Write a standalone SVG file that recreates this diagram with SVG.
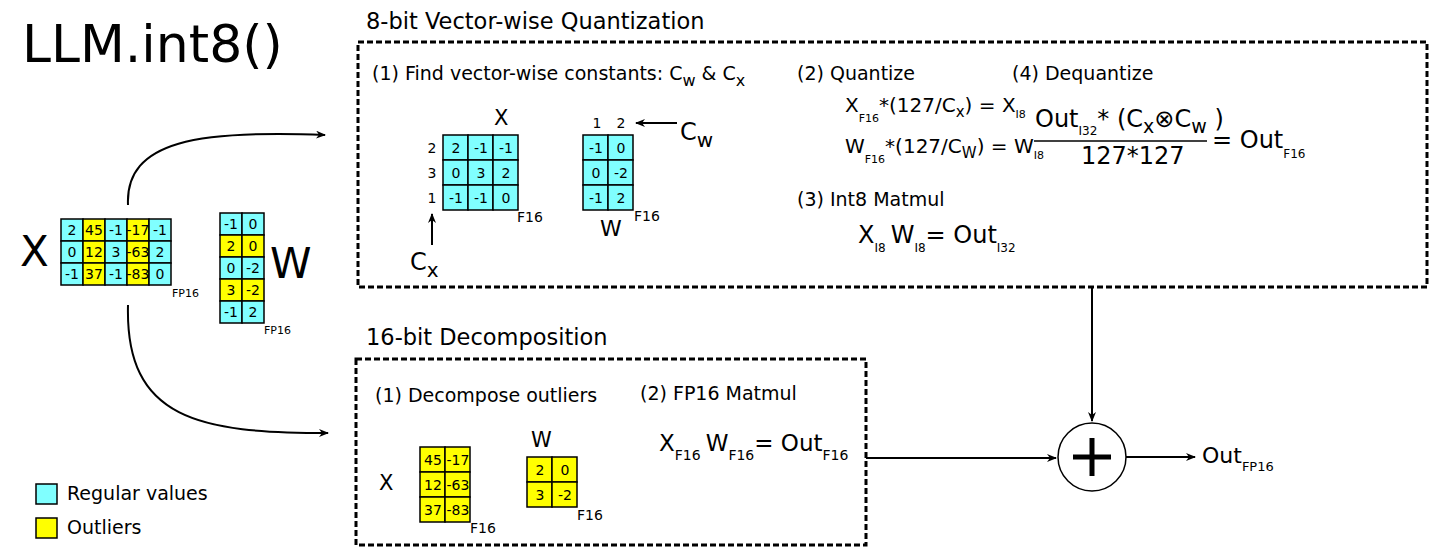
<svg xmlns="http://www.w3.org/2000/svg" width="1444" height="548" viewBox="0 0 1444 548">
<style>
text{font-family:"DejaVu Sans",sans-serif;fill:#000}
.c{fill:#80ffff;stroke:#000;stroke-width:1.5}
.y{fill:#ffff00;stroke:#000;stroke-width:1.5}
.n{font-size:14px;text-anchor:middle}
.s{font-size:11px}
.h{font-size:19px}
.t{font-size:22.5px}
.box{fill:none;stroke:#000;stroke-width:3;stroke-dasharray:6,3}
.ln{fill:none;stroke:#000;stroke-width:2}
</style>
<defs><marker id="a" markerWidth="10" markerHeight="8" refX="9" refY="4" orient="auto" markerUnits="userSpaceOnUse"><path d="M0,0L10,4L0,8L3,4z" fill="#000"/></marker></defs>
<rect width="1444" height="548" fill="#fff"/>
<text x="22" y="62" font-size="52">LLM.int8()</text>

<g id="inputX">
<text x="20" y="266" font-size="42">X</text>
<g class="n">
<rect class="c" x="61" y="219" width="22" height="22"/><rect class="y" x="83" y="219" width="22" height="22"/><rect class="c" x="105" y="219" width="22" height="22"/><rect class="y" x="127" y="219" width="22" height="22"/><rect class="c" x="149" y="219" width="22" height="22"/>
<rect class="c" x="61" y="241" width="22" height="22"/><rect class="y" x="83" y="241" width="22" height="22"/><rect class="c" x="105" y="241" width="22" height="22"/><rect class="y" x="127" y="241" width="22" height="22"/><rect class="c" x="149" y="241" width="22" height="22"/>
<rect class="c" x="61" y="263" width="22" height="22"/><rect class="y" x="83" y="263" width="22" height="22"/><rect class="c" x="105" y="263" width="22" height="22"/><rect class="y" x="127" y="263" width="22" height="22"/><rect class="c" x="149" y="263" width="22" height="22"/>
<text x="72" y="235">2</text><text x="94" y="235">45</text><text x="116" y="235">-1</text><text x="138" y="235">-17</text><text x="160" y="235">-1</text>
<text x="72" y="257">0</text><text x="94" y="257">12</text><text x="116" y="257">3</text><text x="138" y="257">-63</text><text x="160" y="257">2</text>
<text x="72" y="279">-1</text><text x="94" y="279">37</text><text x="116" y="279">-1</text><text x="138" y="279">-83</text><text x="160" y="279">0</text>
</g>
<text class="s" x="172" y="297">FP16</text>
</g>

<g id="inputW">
<g class="n">
<rect class="c" x="220" y="213" width="22" height="22"/><rect class="c" x="242" y="213" width="22" height="22"/>
<rect class="y" x="220" y="235" width="22" height="22"/><rect class="y" x="242" y="235" width="22" height="22"/>
<rect class="c" x="220" y="257" width="22" height="22"/><rect class="c" x="242" y="257" width="22" height="22"/>
<rect class="y" x="220" y="279" width="22" height="22"/><rect class="y" x="242" y="279" width="22" height="22"/>
<rect class="c" x="220" y="301" width="22" height="22"/><rect class="c" x="242" y="301" width="22" height="22"/>
<text x="231" y="229">-1</text><text x="253" y="229">0</text>
<text x="231" y="251">2</text><text x="253" y="251">0</text>
<text x="231" y="273">0</text><text x="253" y="273">-2</text>
<text x="231" y="295">3</text><text x="253" y="295">-2</text>
<text x="231" y="317">-1</text><text x="253" y="317">2</text>
</g>
<text x="270" y="278" font-size="42">W</text>
<text class="s" x="264" y="334">FP16</text>
</g>

<g id="quant">
<rect class="box" x="358" y="42" width="1069" height="245"/>
<text class="t" x="366" y="29">8-bit Vector-wise Quantization</text>
<text class="h" x="372" y="80">(1) Find vector-wise constants: C<tspan font-size="16" dy="6">w</tspan><tspan dy="-6"> &amp; C</tspan><tspan font-size="16" dy="6">x</tspan></text>
<text x="494" y="125" font-size="21">X</text>
<g class="n">
<rect class="c" x="443" y="135" width="25" height="25"/><rect class="c" x="468" y="135" width="25" height="25"/><rect class="c" x="493" y="135" width="25" height="25"/>
<rect class="c" x="443" y="160" width="25" height="25"/><rect class="c" x="468" y="160" width="25" height="25"/><rect class="c" x="493" y="160" width="25" height="25"/>
<rect class="c" x="443" y="185" width="25" height="25"/><rect class="c" x="468" y="185" width="25" height="25"/><rect class="c" x="493" y="185" width="25" height="25"/>
<text x="456" y="153">2</text><text x="481" y="153">-1</text><text x="506" y="153">-1</text>
<text x="456" y="178">0</text><text x="481" y="178">3</text><text x="506" y="178">2</text>
<text x="456" y="203">-1</text><text x="481" y="203">-1</text><text x="506" y="203">0</text>
<text x="432" y="153">2</text><text x="432" y="178">3</text><text x="432" y="203">1</text>
<rect class="c" x="583" y="135" width="25" height="25"/><rect class="c" x="608" y="135" width="25" height="25"/>
<rect class="c" x="583" y="160" width="25" height="25"/><rect class="c" x="608" y="160" width="25" height="25"/>
<rect class="c" x="583" y="185" width="25" height="25"/><rect class="c" x="608" y="185" width="25" height="25"/>
<text x="596" y="153">-1</text><text x="621" y="153">0</text>
<text x="596" y="178">0</text><text x="621" y="178">-2</text>
<text x="596" y="203">-1</text><text x="621" y="203">2</text>
<text x="597" y="128">1</text><text x="621" y="128">2</text>
</g>
<text x="517" y="222" font-size="14">F16</text>
<text x="634" y="221" font-size="14">F16</text>
<text x="600" y="236" font-size="22">W</text>
<text x="410" y="270" font-size="24">C<tspan font-size="20" dy="7">x</tspan></text>
<text x="680" y="140" font-size="24">C<tspan font-size="20" dy="7">w</tspan></text>

<text class="h" x="797" y="80">(2) Quantize</text>
<text x="845" y="112" font-size="20">X<tspan font-size="11" dy="10">F16</tspan><tspan dy="-10">*(127/C</tspan><tspan font-size="15" dy="5">x</tspan><tspan dy="-5">) = X</tspan><tspan font-size="11" dy="6">I8</tspan></text>
<text x="845" y="153" font-size="20">W<tspan font-size="11" dy="10">F16</tspan><tspan dy="-10">*(127/C</tspan><tspan font-size="15" dy="5">W</tspan><tspan dy="-5">) = W</tspan><tspan font-size="11" dy="6">I8</tspan></text>
<text class="h" x="797" y="206">(3) Int8 Matmul</text>
<text x="858" y="243" font-size="24">X<tspan font-size="12" dy="9">I8</tspan><tspan dx="5" dy="-9">W</tspan><tspan font-size="12" dy="9">I8</tspan><tspan dy="-9">= Out</tspan><tspan font-size="12" dy="9">I32</tspan></text>
<text class="h" x="1012" y="80">(4) Dequantize</text>
<text x="1035" y="127" font-size="24">Out<tspan font-size="12" dy="8">I32</tspan><tspan dy="-8">* (C</tspan><tspan font-size="19" dy="6">x</tspan><tspan dy="-6">⊗C</tspan><tspan font-size="19" dy="6">w</tspan><tspan dy="-6"> )</tspan></text>
<line x1="1034" y1="141" x2="1207" y2="141" stroke="#000" stroke-width="1.5"/>
<text x="1081" y="164" font-size="24">127*127</text>
<text x="1212" y="148" font-size="24">= Out<tspan font-size="12" dy="10">F16</tspan></text>
</g>

<g id="decomp">
<rect class="box" x="356" y="359" width="510" height="186"/>
<text class="t" x="366" y="345">16-bit Decomposition</text>
<text class="h" x="375" y="402">(1) Decompose outliers</text>
<text class="h" x="640" y="400">(2) FP16 Matmul</text>
<text x="659" y="451" font-size="23">X<tspan font-size="14" dy="9">F16</tspan><tspan dx="5" dy="-9">W</tspan><tspan font-size="14" dy="9">F16</tspan><tspan dy="-9">= Out</tspan><tspan font-size="14" dy="9">F16</tspan></text>
<text x="379" y="490" font-size="21">X</text>
<text x="531" y="447" font-size="21">W</text>
<g class="n">
<rect class="y" x="420" y="447" width="25" height="25"/><rect class="y" x="445" y="447" width="25" height="25"/>
<rect class="y" x="420" y="472" width="25" height="25"/><rect class="y" x="445" y="472" width="25" height="25"/>
<rect class="y" x="420" y="497" width="25" height="25"/><rect class="y" x="445" y="497" width="25" height="25"/>
<text x="433" y="465">45</text><text x="458" y="465">-17</text>
<text x="433" y="490">12</text><text x="458" y="490">-63</text>
<text x="433" y="515">37</text><text x="458" y="515">-83</text>
<rect class="y" x="527" y="457" width="25" height="25"/><rect class="y" x="552" y="457" width="25" height="25"/>
<rect class="y" x="527" y="482" width="25" height="25"/><rect class="y" x="552" y="482" width="25" height="25"/>
<text x="540" y="475">2</text><text x="565" y="475">0</text>
<text x="540" y="500">3</text><text x="565" y="500">-2</text>
</g>
<text x="470" y="533" font-size="14">F16</text>
<text x="577" y="520" font-size="14">F16</text>
</g>

<g id="plus">
<circle cx="1092" cy="457" r="34" fill="#fff" stroke="#000" stroke-width="1.5"/>
<path d="M1073,457H1111M1092,438V476" stroke="#000" stroke-width="5"/>
</g>
<g id="out"><text x="1202" y="463" font-size="22">Out<tspan font-size="13" dy="8">FP16</tspan></text></g>

<g id="legend">
<rect class="c" x="36" y="484" width="21" height="20"/>
<text x="67" y="500" font-size="19">Regular values</text>
<rect class="y" x="36" y="518" width="21" height="20"/>
<text x="67" y="534" font-size="19">Outliers</text>
</g>

<g id="connectors">
<path class="ln" d="M128,205C125,140 200,130 325,135" marker-end="url(#a)"/>
<path class="ln" d="M128,305C125,420 200,433 328,433" marker-end="url(#a)"/>
<path class="ln" d="M432,245V214" marker-end="url(#a)" stroke-width="1.5"/>
<path class="ln" d="M677,123H636" marker-end="url(#a)" stroke-width="1.5"/>
<path class="ln" d="M1092,287V421" marker-end="url(#a)"/>
<path class="ln" d="M866,458H1056" marker-end="url(#a)"/>
<path class="ln" d="M1126,457H1195" marker-end="url(#a)"/>
</g>
</svg>
